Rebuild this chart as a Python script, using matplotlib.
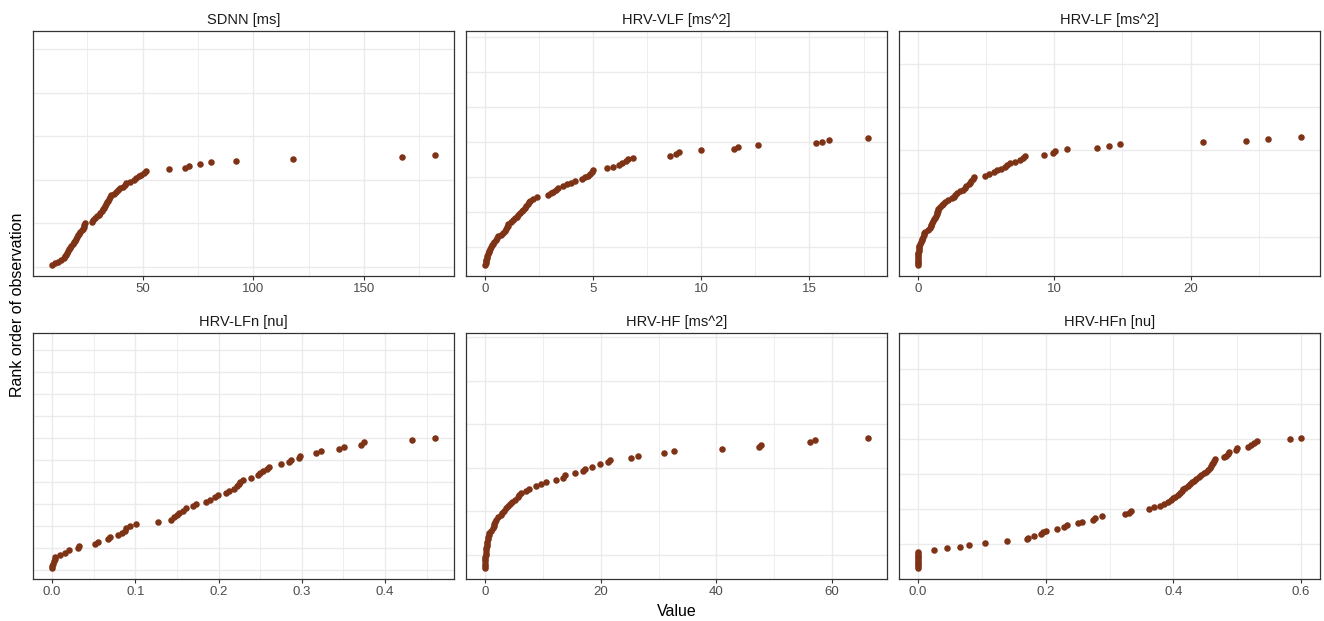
import numpy as np
import matplotlib.pyplot as plt
from matplotlib.ticker import MultipleLocator

plt.rcParams['font.family'] = ['Liberation Sans', 'DejaVu Sans']

# sorted values per HRV measure, plotted against their rank
sdnn = [9.2, 10.5, 11.8, 13.0, 14.4, 15.0, 15.5, 16.0, 16.4, 16.8,
        17.3, 17.8, 18.4, 19.0, 19.6, 20.0, 20.5, 21.0, 21.5, 22.0,
        22.5, 23.0, 23.4, 23.8, 24.1, 27.0, 27.8, 28.6, 29.5, 30.2,
        31.0, 31.6, 32.0, 32.5, 33.0, 33.5, 34.0, 34.6, 35.0, 35.3,
        36.0, 37.0, 38.0, 39.0, 40.0, 41.0, 42.0, 42.7, 44.5, 46.0,
        47.2, 48.5, 49.5, 50.5, 51.7, 62.0, 69.0, 71.0, 76.0, 81.0,
        92.0, 118.0, 167.0, 182.0]
hrv_vlf = [0.0, 0.02, 0.04, 0.05, 0.07, 0.08, 0.12, 0.16, 0.2, 0.24,
           0.28, 0.31, 0.37, 0.43, 0.49, 0.55, 0.61, 0.72, 0.82, 0.92,
           0.96, 1.0, 1.04, 1.08, 1.18, 1.28, 1.38, 1.46, 1.54, 1.62,
           1.7, 1.77, 1.84, 1.9, 1.96, 2.02, 2.08, 2.2, 2.38, 2.92,
           3.05, 3.15, 3.27, 3.38, 3.58, 3.77, 3.96, 4.15, 4.46, 4.6,
           4.77, 4.85, 4.92, 5.0, 5.62, 5.92, 6.2, 6.35, 6.5, 6.6,
           6.85, 8.54, 8.85, 8.95, 10.0, 11.5, 11.7, 12.6, 15.3, 15.6,
           15.9, 17.7]
hrv_lf = [0.0, 0.0, 0.0, 0.0, 0.01, 0.01, 0.02, 0.02, 0.03, 0.04,
          0.05, 0.1, 0.15, 0.2, 0.25, 0.3, 0.35, 0.4, 0.45, 0.5,
          0.7, 0.86, 0.92, 0.98, 1.04, 1.1, 1.16, 1.23, 1.3, 1.35,
          1.4, 1.44, 1.47, 1.6, 1.75, 1.85, 1.96, 2.2, 2.45, 2.6,
          2.72, 2.82, 3.05, 3.31, 3.45, 3.55, 3.7, 3.8, 3.9, 4.0,
          4.1, 4.9, 5.2, 5.56, 5.8, 6.08, 6.4, 6.55, 6.74, 7.1,
          7.48, 7.7, 7.85, 9.25, 9.9, 10.05, 10.9, 13.1, 14.0, 14.8,
          20.9, 24.1, 25.7, 28.1]
hrv_lfn = [0.0, 0.0, 0.001, 0.002, 0.003, 0.004, 0.009, 0.016, 0.020, 0.031,
           0.032, 0.051, 0.055, 0.067, 0.069, 0.079, 0.084, 0.087, 0.089, 0.093,
           0.101, 0.127, 0.143, 0.147, 0.150, 0.152, 0.157, 0.161, 0.169, 0.173,
           0.185, 0.190, 0.196, 0.199, 0.209, 0.213, 0.218, 0.222, 0.224, 0.226,
           0.229, 0.239, 0.247, 0.250, 0.254, 0.258, 0.261, 0.275, 0.285, 0.287,
           0.297, 0.298, 0.317, 0.323, 0.345, 0.351, 0.371, 0.375, 0.433, 0.46]
hrv_hf = [0.0, 0.0, 0.0, 0.0, 0.02, 0.05, 0.08, 0.1, 0.15, 0.2,
          0.25, 0.3, 0.4, 0.48, 0.55, 0.62, 0.7, 0.95, 1.3, 1.45,
          1.6, 1.75, 1.85, 2.2, 2.7, 3.0, 3.3, 3.6, 4.0, 4.35,
          4.7, 5.2, 5.6, 5.9, 6.2, 7.05, 7.6, 8.8, 9.6, 10.5,
          12.2, 13.4, 13.9, 15.6, 17.0, 17.3, 18.5, 19.8, 21.2, 21.6,
          25.2, 26.5, 31.0, 32.6, 40.9, 47.3, 47.8, 56.2, 57.0, 66.2]
hrv_hfn = [0.0, 0.0, 0.0, 0.0, 0.0, 0.0, 0.0, 0.0, 0.0, 0.0,
           0.025, 0.045, 0.066, 0.08, 0.105, 0.14, 0.171, 0.172, 0.182, 0.192,
           0.196, 0.2, 0.217, 0.229, 0.234, 0.25, 0.257, 0.274, 0.278, 0.289,
           0.325, 0.33, 0.334, 0.362, 0.37, 0.379, 0.385, 0.392, 0.396, 0.4,
           0.403, 0.407, 0.41, 0.413, 0.415, 0.419, 0.423, 0.426, 0.43, 0.433,
           0.436, 0.44, 0.443, 0.448, 0.452, 0.455, 0.458, 0.459, 0.461, 0.462,
           0.464, 0.466, 0.479, 0.482, 0.485, 0.487, 0.498, 0.5, 0.517, 0.522,
           0.527, 0.531, 0.583, 0.6]

titles = ['SDNN [ms]', 'HRV-VLF [ms^2]', 'HRV-LF [ms^2]',
          'HRV-LFn [nu]', 'HRV-HF [ms^2]', 'HRV-HFn [nu]']
series = [sdnn, hrv_vlf, hrv_lf, hrv_lfn, hrv_hf, hrv_hfn]
xticks = [[50, 100, 150], [0, 5, 10, 15], [0, 10, 20],
          [0.0, 0.1, 0.2, 0.3, 0.4], [0, 20, 40, 60], [0.0, 0.2, 0.4, 0.6]]
xminor = [25, 2.5, 5, 0.05, 10, 0.1]

# rank axis: limits, grid spacing and grid offset per panel
rank_axis = [(-5.3, 135.7, 25, 0.0), (-5.15, 131.96, 19.56, 10.9),
             (-5.27, 134.7, 24.7, 17.15), (-4.13, 107.5, 10, 0.0),
             (-4.13, 107.5, 19.75, 6.9), (-5.33, 132.5, 19.6, 14.45)]

POINT = '#7E3317'
GRID = '#EBEBEB'

W, H = 1324, 621
fig = plt.figure(figsize=(W / 100, H / 100), dpi=100)

lefts = [33, 466, 899]
rows = [(30.7, 276), (333.3, 579.3)]
pw = 421

for i, (title, vals) in enumerate(zip(titles, series)):
    top, bot = rows[i // 3]
    ax = fig.add_axes([lefts[i % 3] / W, 1 - bot / H, pw / W, (bot - top) / H])
    y = np.arange(1, len(vals) + 1)
    ax.scatter(vals, y, s=22, color=POINT, linewidths=0, zorder=3)

    lo, hi, step, off = rank_axis[i]
    ax.set_ylim(lo, hi)
    ax.yaxis.set_major_locator(MultipleLocator(step, offset=off))
    ax.tick_params(axis='y', length=0, labelleft=False)

    ax.set_xticks(xticks[i])
    ax.xaxis.set_minor_locator(MultipleLocator(xminor[i]))
    ax.tick_params(axis='x', which='major', length=3, width=0.8, color='#333333',
                   labelcolor='#4D4D4D', labelsize=9.5, pad=2)
    ax.tick_params(axis='x', which='minor', length=0)

    ax.grid(True, which='major', color=GRID, lw=1.0, zorder=0)
    ax.grid(True, which='minor', axis='x', color=GRID, lw=0.6, zorder=0)
    ax.set_axisbelow(True)
    for sp in ax.spines.values():
        sp.set_color('#333333')
        sp.set_linewidth(0.9)

    ax.set_title(title, fontsize=10.5, color='#1A1A1A', pad=5)

fig.text(677 / W, 1 - 611 / H, 'Value', ha='center', va='center', fontsize=11.5)
fig.text(18 / W, 1 - 305 / H, 'Rank order of observation', ha='center', va='center',
         rotation=90, fontsize=11.5)

fig.savefig('out.png', dpi=100)
